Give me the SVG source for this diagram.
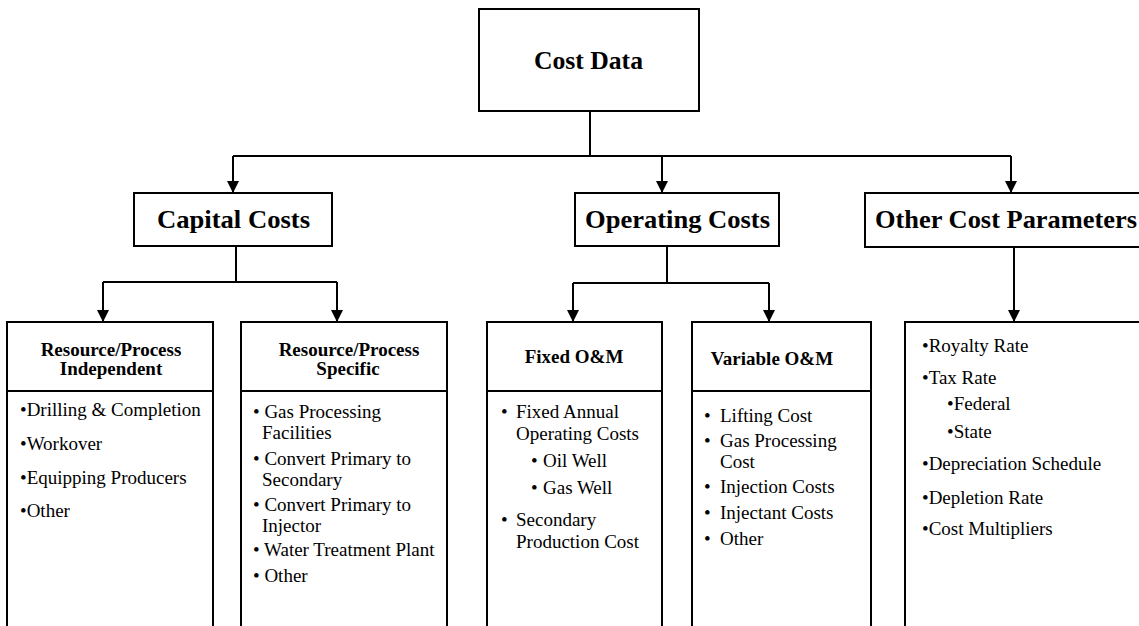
<svg xmlns="http://www.w3.org/2000/svg" width="1139" height="626" viewBox="0 0 1139 626">
<defs>
<marker id="arr" viewBox="0 0 12 12" refX="11" refY="6" markerWidth="12" markerHeight="12" markerUnits="userSpaceOnUse" orient="auto">
<path d="M0,0 L12,6 L0,12 z" fill="#000"/>
</marker>
<style>
.box{fill:#fff;stroke:#000;stroke-width:2}
.ln{fill:none;stroke:#000;stroke-width:2}
.t1{font-family:"Liberation Serif","Times New Roman",serif;font-weight:bold;font-size:26px;fill:#000}
.t2{font-family:"Liberation Serif","Times New Roman",serif;font-weight:bold;font-size:19px;fill:#000}
.tb{font-family:"Liberation Serif","Times New Roman",serif;font-size:19px;fill:#000}
</style>
</defs>
<rect width="1139" height="626" fill="#fff"/>
<g id="connectors">
<path class="ln" d="M590,111 V156 M233,156 H1011"/>
<path class="ln" d="M233,156 V192" marker-end="url(#arr)"/>
<path class="ln" d="M662,156 V192" marker-end="url(#arr)"/>
<path class="ln" d="M1011,156 V192" marker-end="url(#arr)"/>
<path class="ln" d="M236,246 V282 M103,282 H337"/>
<path class="ln" d="M103,282 V321" marker-end="url(#arr)"/>
<path class="ln" d="M337,282 V321" marker-end="url(#arr)"/>
<path class="ln" d="M667,246 V283 M573,283 H769"/>
<path class="ln" d="M573,283 V321" marker-end="url(#arr)"/>
<path class="ln" d="M769,283 V321" marker-end="url(#arr)"/>
<path class="ln" d="M1014,247 V321" marker-end="url(#arr)"/>
</g>
<g id="cost-data">
<rect class="box" x="479" y="9" width="220" height="102"/>
<text class="t1" x="588.5" y="69" text-anchor="middle" textLength="109" lengthAdjust="spacingAndGlyphs">Cost Data</text>
</g>
<g id="capital-costs">
<rect class="box" x="134" y="193" width="198" height="53"/>
<text class="t1" x="157" y="228" textLength="153" lengthAdjust="spacingAndGlyphs">Capital Costs</text>
</g>
<g id="operating-costs">
<rect class="box" x="575" y="193" width="204" height="53"/>
<text class="t1" x="585" y="228" textLength="185" lengthAdjust="spacingAndGlyphs">Operating Costs</text>
</g>
<g id="other-cost-parameters">
<rect class="box" x="865" y="193" width="290" height="54"/>
<text class="t1" x="875" y="228" textLength="262" lengthAdjust="spacingAndGlyphs">Other Cost Parameters</text>
</g>
<g id="resource-independent">
<rect class="box" x="7" y="322" width="206" height="320"/>
<line class="ln" x1="7" y1="391" x2="213" y2="391"/>
<text class="t2" x="111" y="356" text-anchor="middle">Resource/Process</text>
<text class="t2" x="111" y="375" text-anchor="middle">Independent</text>
<text class="tb" x="20" y="416">•Drilling &amp; Completion</text>
<text class="tb" x="20" y="450">•Workover</text>
<text class="tb" x="20" y="484">•Equipping Producers</text>
<text class="tb" x="20" y="517">•Other</text>
</g>
<g id="resource-specific">
<rect class="box" x="241" y="322" width="206" height="320"/>
<line class="ln" x1="241" y1="391" x2="447" y2="391"/>
<text class="t2" x="349" y="356" text-anchor="middle">Resource/Process</text>
<text class="t2" x="348" y="375" text-anchor="middle">Specific</text>
<text class="tb" x="253" y="418">• Gas Processing</text>
<text class="tb" x="262" y="439">Facilities</text>
<text class="tb" x="253" y="465">• Convert Primary to</text>
<text class="tb" x="262" y="486">Secondary</text>
<text class="tb" x="253" y="511">• Convert Primary to</text>
<text class="tb" x="262" y="532">Injector</text>
<text class="tb" x="253" y="556">• Water Treatment Plant</text>
<text class="tb" x="253" y="582">• Other</text>
</g>
<g id="fixed-om">
<rect class="box" x="487" y="322" width="175" height="320"/>
<line class="ln" x1="487" y1="391" x2="662" y2="391"/>
<text class="t2" x="574" y="363" text-anchor="middle">Fixed O&amp;M</text>
<text class="tb" x="501" y="418">•</text>
<text class="tb" x="516" y="418">Fixed Annual</text>
<text class="tb" x="516" y="440">Operating Costs</text>
<text class="tb" x="531" y="467">•</text>
<text class="tb" x="543" y="467">Oil Well</text>
<text class="tb" x="531" y="494">•</text>
<text class="tb" x="543" y="494">Gas Well</text>
<text class="tb" x="501" y="526">•</text>
<text class="tb" x="516" y="526">Secondary</text>
<text class="tb" x="516" y="548">Production Cost</text>
</g>
<g id="variable-om">
<rect class="box" x="692" y="322" width="179" height="320"/>
<line class="ln" x1="692" y1="391" x2="871" y2="391"/>
<text class="t2" x="772" y="365" text-anchor="middle">Variable O&amp;M</text>
<text class="tb" x="704" y="422">•</text>
<text class="tb" x="720" y="422">Lifting Cost</text>
<text class="tb" x="704" y="447">•</text>
<text class="tb" x="720" y="447">Gas Processing</text>
<text class="tb" x="720" y="468">Cost</text>
<text class="tb" x="704" y="493">•</text>
<text class="tb" x="720" y="493">Injection Costs</text>
<text class="tb" x="704" y="519">•</text>
<text class="tb" x="720" y="519">Injectant Costs</text>
<text class="tb" x="704" y="545">•</text>
<text class="tb" x="720" y="545">Other</text>
</g>
<g id="other-parameters-list">
<rect class="box" x="905" y="322" width="250" height="320"/>
<text class="tb" x="922" y="352">•Royalty Rate</text>
<text class="tb" x="922" y="384">•Tax Rate</text>
<text class="tb" x="947" y="410">•Federal</text>
<text class="tb" x="947" y="438">•State</text>
<text class="tb" x="922" y="470">•Depreciation Schedule</text>
<text class="tb" x="922" y="504">•Depletion Rate</text>
<text class="tb" x="922" y="535">•Cost Multipliers</text>
</g>
</svg>
